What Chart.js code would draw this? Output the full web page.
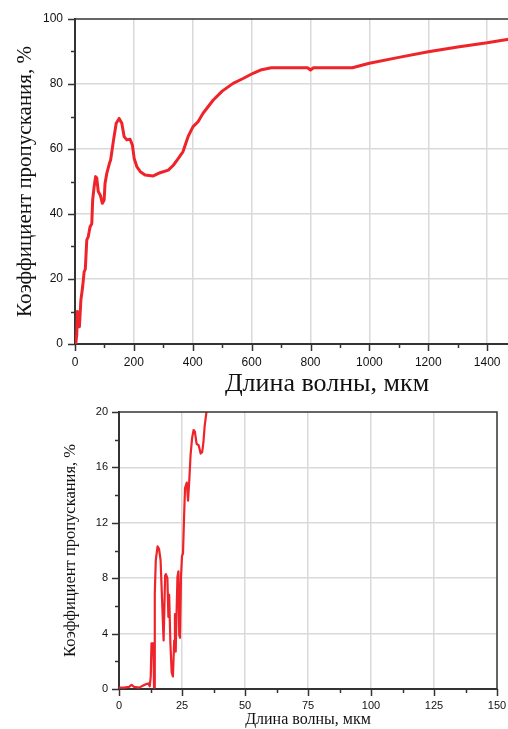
<!DOCTYPE html>
<html>
<head>
<meta charset="utf-8">
<script src="https://cdn.jsdelivr.net/npm/chart.js@4"></script>
<style>
  html, body { margin: 0; padding: 0; background: #fff; overflow: hidden; }
  #wrap { position: relative; width: 508px; height: 729px; overflow: hidden; background: #fff; }
  #c1 { position: absolute; left: 0; top: 0; }
  #c2 { position: absolute; left: 0; top: 400px; }
</style>
</head>
<body>
<div id="wrap">
  <canvas id="c1" width="579" height="400"></canvas>
  <canvas id="c2" width="508" height="329"></canvas>
</div>
<script>
// ---- Top chart data (wavelength, µm -> transmission, %) ----
const topX = [0, 3, 6, 8, 11, 15, 20, 26, 31, 35, 40, 45, 51, 57, 60, 65, 70, 74, 79, 86,
  93, 99, 102, 108, 117, 121, 131, 140, 150, 159, 167, 176, 187, 195, 201, 210, 222, 238, 266, 289,
  317, 334, 351, 367, 384, 401, 418, 435, 452, 469, 500, 537, 571, 605, 630, 667, 720, 790, 800, 810,
  870, 942, 1000, 1100, 1200, 1300, 1400, 1473];
const topY = [0, 0.4, 3, 10, 8, 5.3, 13.5, 17.6, 22.2, 23, 32, 33, 36, 37, 44.3, 48.4, 51.5, 51, 46.9, 45.8,
  43.3, 44.3, 49.4, 52.5, 55.6, 56.6, 62.8, 67.9, 69.4, 67.9, 63.8, 62.8, 63, 61.2, 57.1, 54.6, 53, 52, 51.7, 52.7,
  53.5, 55, 57.1, 59.2, 63.8, 66.9, 68.4, 71, 73, 75, 77.8, 80.2, 81.7, 83.3, 84.3, 85, 85, 85, 84.3, 85,
  85, 85, 86.4, 88.2, 89.9, 91.4, 92.7, 93.8];

// ---- Bottom chart data (zoomed 0-150 µm, 0-20 %) ----
const botX = [0, 2, 4, 5, 6, 8, 9.6, 10.7, 11.6, 12.2, 12.6, 12.9, 13.6, 13.9, 14.2, 14.6, 15.3, 15.9, 16.5, 17.1,
  17.7, 18.3, 18.6, 19.2, 19.6, 19.9, 20.4, 20.9, 21.4, 21.9, 22.2, 22.5, 22.9, 23.2, 23.6, 23.9, 24.2, 24.6, 25.0, 25.4,
  25.8, 26.2, 26.9, 27.4, 27.9, 28.4, 29.0, 29.6, 30.1, 30.8, 31.6, 32.4, 33.0, 33.5, 34.0, 34.7, 35.2];
const botY = [0.1, 0.1, 0.15, 0.3, 0.15, 0.1, 0.25, 0.35, 0.4, 0.2, 0.9, 3.3, 3.3, 0.1, 6.9, 9.3, 10.3, 10.1, 9.3, 6.4,
  3.5, 8.2, 8.3, 8.0, 5.2, 6.8, 3.3, 1.2, 0.9, 3.5, 5.4, 2.7, 5.9, 8.1, 8.5, 3.9, 3.7, 8.1, 9.6, 9.8,
  12.3, 14.5, 14.9, 13.6, 15.1, 16.9, 18.1, 18.7, 18.6, 17.7, 17.6, 17.0, 17.1, 17.8, 19.0, 20.0, 21.5];

const xTitle = 'Длина волны, мкм';
const yTitle = 'Коэффициент пропускания, %';

const RED = 'rgb(238,36,42)';
const GRID = '#d9d9d9';
const AXIS = '#333333';
const TXT = '#111111';

// Draws outward tick marks (long for labelled, short for unlabelled) and the frame lines
const frameTicks = {
  id: 'frameTicks',
  afterDraw(chart, args, opts) {
    const { ctx, chartArea: a } = chart;
    ctx.save();
    ctx.strokeStyle = AXIS;
    ctx.lineWidth = 1.5;
    ['x', 'y'].forEach(id => {
      const s = chart.scales[id];
      const every = opts[id + 'Major'];
      s.ticks.forEach(t => {
        const major = Math.abs(t.value / every - Math.round(t.value / every)) < 1e-6;
        const len = major ? 7 : 4;
        const p = Math.round(s.getPixelForValue(t.value)) + 0.5;
        ctx.beginPath();
        if (id === 'x') { ctx.moveTo(p, a.bottom); ctx.lineTo(p, a.bottom + len); }
        else { ctx.moveTo(a.left - len, p); ctx.lineTo(a.left, p); }
        ctx.stroke();
      });
    });
    ctx.beginPath();
    ctx.moveTo(a.left, a.top);
    ctx.lineTo(a.right, a.top);
    if (opts.right) ctx.lineTo(a.right, a.bottom);
    ctx.stroke();
    ctx.restore();
  }
};

function isMult(v, m) { return Math.abs(v / m - Math.round(v / m)) < 1e-6; }

function makeChart(canvas, cfg) {
  return new Chart(canvas, {
    type: 'line',
    data: {
      datasets: [{
        data: cfg.xs.map((x, i) => ({ x: x, y: cfg.ys[i] })),
        borderColor: RED,
        borderWidth: cfg.lineWidth,
        pointRadius: 0,
        tension: 0,
        fill: false,
        borderJoinStyle: 'round'
      }]
    },
    options: {
      responsive: false,
      animation: false,
      events: [],
      layout: { padding: cfg.padding },
      plugins: {
        legend: { display: false },
        tooltip: { enabled: false },
        frameTicks: { xMajor: cfg.xMajor, yMajor: cfg.yMajor, right: cfg.frameRight }
      },
      scales: {
        x: {
          type: 'linear',
          min: 0, max: cfg.xMax,
          ticks: {
            stepSize: cfg.xStep, includeBounds: false, autoSkip: false, maxRotation: 0,
            padding: cfg.xTickPad, color: TXT,
            font: { family: 'Liberation Sans, Arial, sans-serif', size: cfg.tickSize },
            callback: v => isMult(v, cfg.xMajor) ? String(v) : ''
          },
          grid: {
            drawTicks: false, lineWidth: 1.5,
            color: c => (c.tick && isMult(c.tick.value, cfg.xMajor) && c.tick.value > 0 && c.tick.value < cfg.xMax) ? GRID : 'rgba(0,0,0,0)'
          },
          border: { color: AXIS, width: 2 },
          title: {
            display: true, text: xTitle, color: TXT,
            font: { family: 'Liberation Serif, Times New Roman, serif', size: cfg.xTitleSize },
            padding: { top: 0, bottom: cfg.xTitlePad }
          },
          afterFit: s => { s.height = cfg.xAxisH; s.paddingLeft = 0; s.paddingRight = 0; }
        },
        y: {
          type: 'linear',
          min: 0, max: cfg.yMax,
          ticks: {
            stepSize: cfg.yStep, includeBounds: false, autoSkip: false,
            padding: cfg.yTickPad, color: TXT,
            font: { family: 'Liberation Sans, Arial, sans-serif', size: cfg.tickSize },
            callback: v => isMult(v, cfg.yMajor) ? String(v) : ''
          },
          grid: {
            drawTicks: false, lineWidth: 1.5,
            color: c => (c.tick && isMult(c.tick.value, cfg.yMajor) && c.tick.value > 0 && c.tick.value < cfg.yMax) ? GRID : 'rgba(0,0,0,0)'
          },
          border: { color: AXIS, width: 2 },
          title: {
            display: true, text: yTitle, color: TXT,
            font: { family: 'Liberation Serif, Times New Roman, serif', size: cfg.yTitleSize },
            padding: { top: cfg.yTitlePad, bottom: 0 }
          },
          afterFit: s => { s.width = cfg.yAxisW; s.paddingTop = 0; s.paddingBottom = 0; }
        }
      }
    },
    plugins: [frameTicks]
  });
}

makeChart(document.getElementById('c1'), {
  xs: topX, ys: topY, lineWidth: 3,
  xMax: 1712, xStep: 100, xMajor: 200,
  yMax: 100, yStep: 10, yMajor: 20,
  padding: { top: 19, right: 0, bottom: 0, left: 0 },
  xAxisH: 56, yAxisW: 75,
  tickSize: 12, xTickPad: 11, yTickPad: 12,
  xTitleSize: 26, xTitlePad: 0, yTitleSize: 21, yTitlePad: 13,
  frameRight: false
});

makeChart(document.getElementById('c2'), {
  xs: botX, ys: botY, lineWidth: 2.2,
  xMax: 150, xStep: 12.5, xMajor: 25,
  yMax: 20, yStep: 2, yMajor: 4,
  padding: { top: 12, right: 11, bottom: 0, left: 0 },
  xAxisH: 40, yAxisW: 119,
  tickSize: 11, xTickPad: 10, yTickPad: 11,
  xTitleSize: 16, xTitlePad: 0, yTitleSize: 16.5, yTitlePad: 61,
  frameRight: true
});
</script>
</body>
</html>
